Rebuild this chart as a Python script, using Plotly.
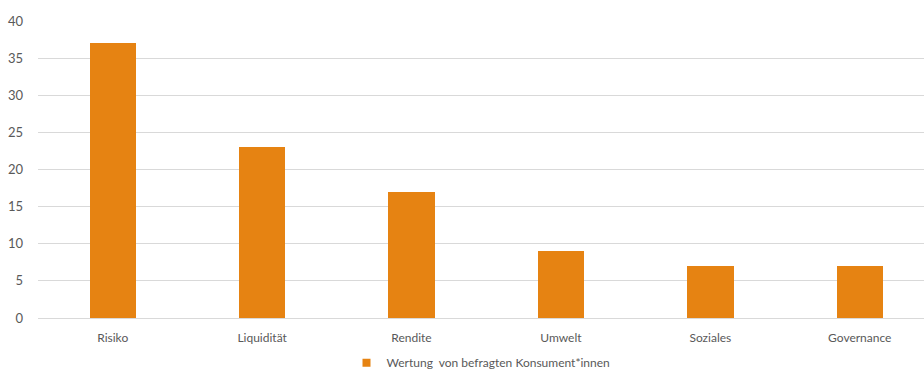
import plotly.graph_objects as go

categories = ["Risiko", "Liquidität", "Rendite", "Umwelt", "Soziales", "Governance"]
values = [37, 23, 17, 9, 7, 7]
series_name = "Wertung  von befragten Konsument*innen"
y_ticks = [0, 5, 10, 15, 20, 25, 30, 35, 40]
bar_color = "#E68312"

fig = go.Figure()
fig.add_trace(go.Bar(
    x=categories, y=values, name=series_name,
    marker=dict(color=bar_color, line=dict(width=0)),
    width=0.31, showlegend=False,
))
# legend-only entry with a small square swatch
fig.add_trace(go.Scatter(
    x=[None], y=[None], mode="markers", name=series_name,
    marker=dict(symbol="square", size=8, color=bar_color),
    showlegend=True,
))

fig.update_layout(
    width=924, height=372,
    margin=dict(l=38, r=0, t=21, b=54, pad=0, autoexpand=False),
    paper_bgcolor="white", plot_bgcolor="white",
    font=dict(family="Lato, Open Sans, sans-serif", size=12, color="#595959"),
    bargap=0,
    xaxis=dict(
        range=[-0.5, 5.43], showgrid=False, showline=False, zeroline=False,
        ticks="", tickfont=dict(size=12, color="#595959"), ticklabelstandoff=11,
    ),
    yaxis=dict(
        range=[0, 40], tickvals=y_ticks, showgrid=True, gridcolor="#D9D9D9",
        gridwidth=1, zeroline=True, zerolinecolor="#D9D9D9", zerolinewidth=1,
        showline=False, ticks="", tickfont=dict(size=13, color="#595959"),
        ticklabelstandoff=14,
    ),
    legend=dict(
        orientation="h", x=0.5, xanchor="center",
        yref="container", y=0.025, yanchor="middle",
        font=dict(size=12, color="#595959"), itemwidth=30,
    ),
)

fig.write_html("out.html")
